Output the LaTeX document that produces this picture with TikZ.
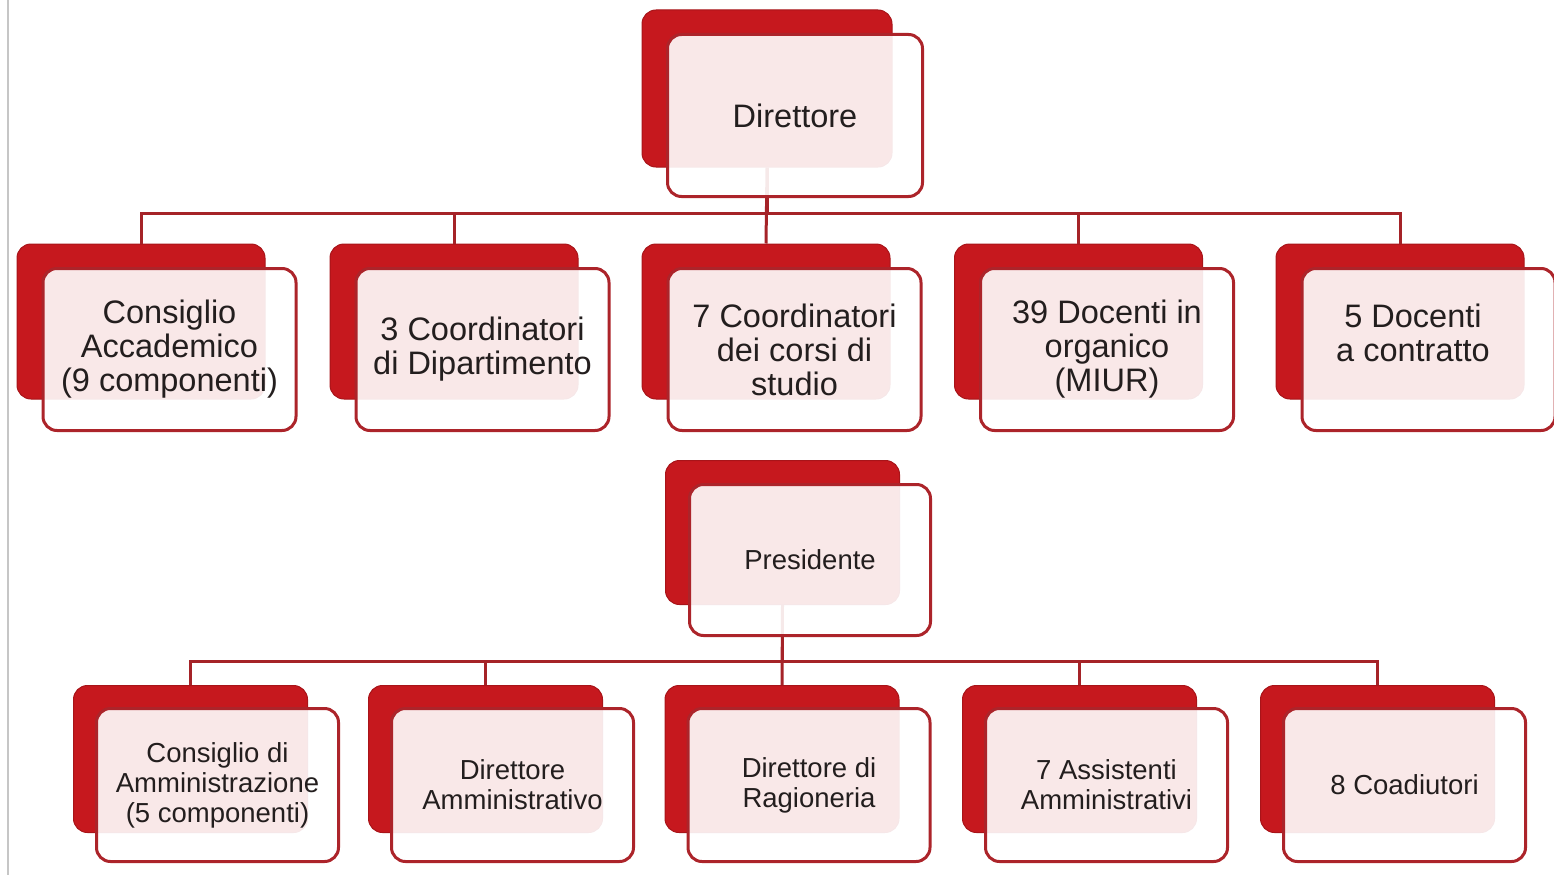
\documentclass[tikz,border=0pt]{standalone}
\usepackage{fontspec}
\setmainfont{Liberation Sans}
\usetikzlibrary{calc, positioning}

\definecolor{cardred}{RGB}{198,24,30}
\definecolor{rimred}{RGB}{172,36,42}
\definecolor{linkred}{RGB}{165,35,40}
\definecolor{inkgrey}{RGB}{35,30,30}

\tikzset{
  backbox/.style={draw=cardred!85!black, fill=cardred, rounded corners=14pt, line width=1pt},
  frontbox/.style={draw=rimred, fill=white, fill opacity=0.9, text opacity=1,
    rounded corners=14pt, line width=3pt, align=center, text=inkgrey},
  link/.style={draw=linkred, line width=3pt},
  bigtext/.style={font=\fontsize{32.5}{34}\selectfont},
  smalltext/.style={font=\fontsize{27.5}{30}\selectfont},
  backA/.style={backbox, minimum width=248pt, minimum height=155pt},
  frontA/.style={frontbox, bigtext, minimum width=253pt, minimum height=162pt},
  backB/.style={backbox, minimum width=234pt, minimum height=147pt},
  frontB/.style={frontbox, smalltext, minimum width=242pt, minimum height=153pt}
}

\begin{document}
\begin{tikzpicture}[x=1pt, y=-1pt]

\useasboundingbox (0,0) rectangle (1554,875);
\draw[gray!45, line width=1.5pt] (8,0) -- (8,875);

% academic side: back cards
\node[backA, minimum width=250pt, minimum height=157pt] (dirB) at (767,88.5) {};
\node[backA] (caB) at (141,321.5) {};
\node[backA] (cdB) at (454,321.5) {};
\node[backA] (ccB) at (766,321.5) {};
\node[backA] (doB) at (1078.5,321.5) {};
\node[backA] (dcB) at (1400,321.5) {};

\coordinate (barA) at (0,213);

% Connections: Direttore to bodies
\draw[link] (dirB.south) -- (dirB.south |- barA) -| (caB.north);
\draw[link] (dirB.south) -- (dirB.south |- barA) -| (cdB.north);
\draw[link] (dirB.south) -- (ccB.north);
\draw[link] (dirB.south) -- (dirB.south |- barA) -| (doB.north);
\draw[link] (dirB.south) -- (dirB.south |- barA) -| (dcB.north);

% academic side: front cards
\node[frontA, minimum width=255pt, minimum height=162pt] (dir) at ($(dirB)+(28,27)$) {Direttore};
\node[frontA] (ca) at ($(caB)+(28.5,28)$) {Consiglio\\Accademico\\(9 componenti)};
\node[frontA] (cd) at ($(cdB)+(28.5,28)$) {3 Coordinatori\\di Dipartimento};
\node[frontA] (cc) at ($(ccB)+(28.5,28)$) {7 Coordinatori\\dei corsi di\\studio};
\node[frontA] (do) at ($(doB)+(28.5,28)$) {39 Docenti in\\organico\\(MIUR)};
\node[frontA] (dc) at ($(dcB)+(28.5,28)$) {};
\node[bigtext, align=center, text=inkgrey] (dct) at (1413,333) {5 Docenti\\a contratto};

% administrative side: back cards
\node[backB, minimum height=144pt] (preB) at (782.5,532.5) {};
\node[backB] (amB) at (190.5,759) {};
\node[backB] (daB) at (485.5,759) {};
\node[backB] (drB) at (782,759) {};
\node[backB] (asB) at (1079.5,759) {};
\node[backB] (coB) at (1377.5,759) {};

\coordinate (barB) at (0,661);

% Connections: Presidente to offices
\draw[link] (preB.south) -- (preB.south |- barB) -| (amB.north);
\draw[link] (preB.south) -- (preB.south |- barB) -| (daB.north);
\draw[link] (preB.south) -- (drB.north);
\draw[link] (preB.south) -- (preB.south |- barB) -| (asB.north);
\draw[link] (preB.south) -- (preB.south |- barB) -| (coB.north);

% administrative side: front cards
\node[frontB, minimum width=241pt, minimum height=151pt] (pre) at ($(preB)+(27.5,27.5)$) {Presidente};
\node[frontB] (am) at ($(amB)+(27,26)$) {Consiglio di\\Amministrazione\\(5 componenti)};
\node[frontB] (da) at ($(daB)+(27,26)$) {Direttore\\Amministrativo};
\node[frontB] (dr) at ($(drB)+(27,26)$) {Direttore di\\Ragioneria};
\node[frontB] (as) at ($(asB)+(27,26)$) {7 Assistenti\\Amministrativi};
\node[frontB] (co) at ($(coB)+(27,26)$) {8 Coadiutori};

\end{tikzpicture}
\end{document}
